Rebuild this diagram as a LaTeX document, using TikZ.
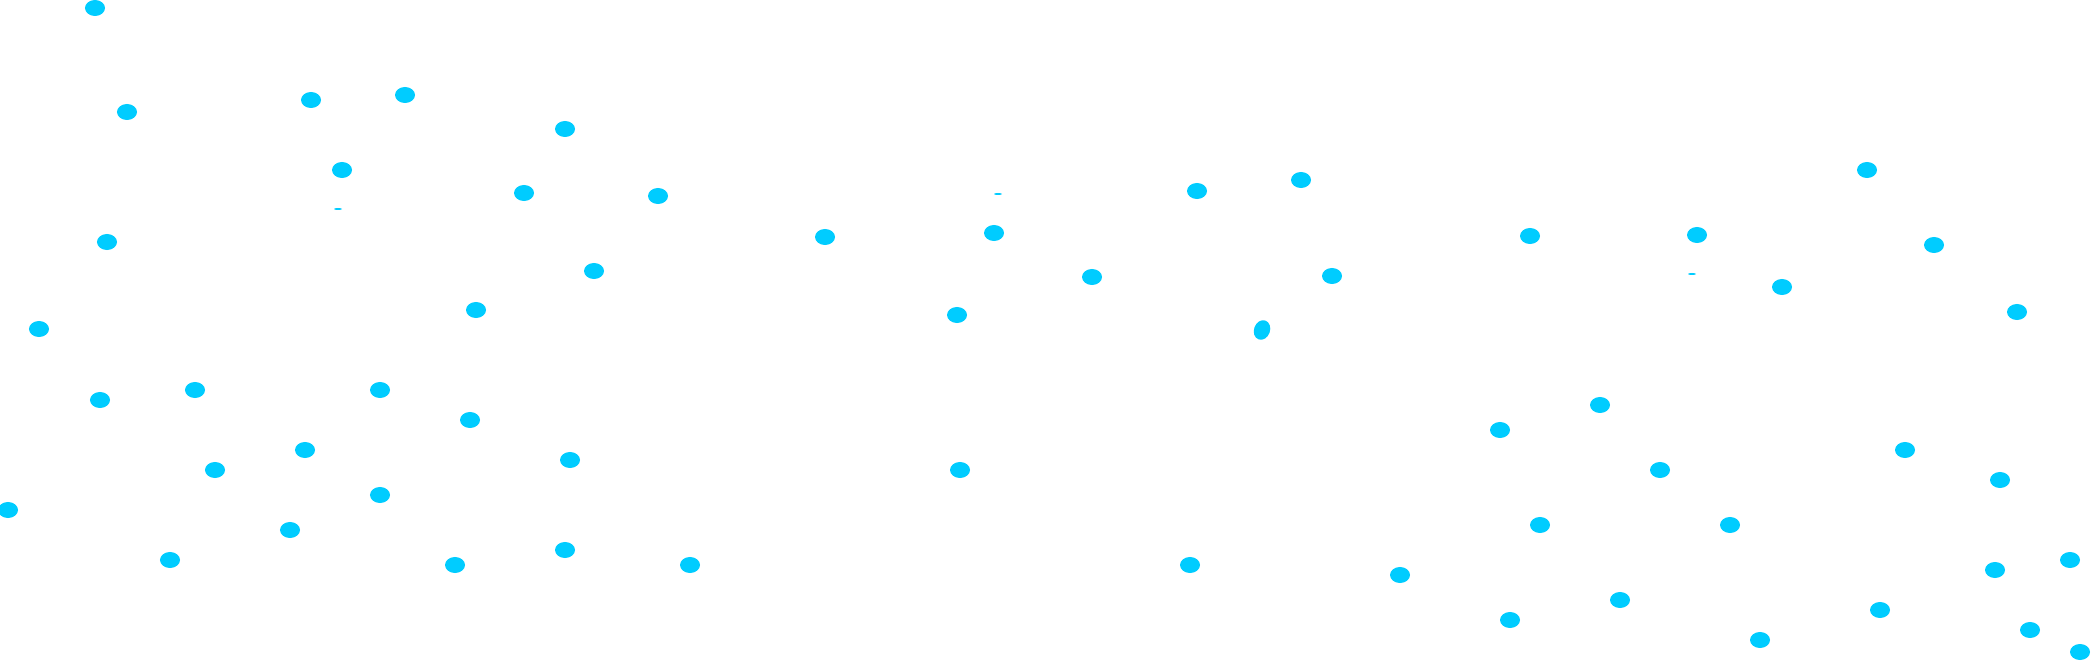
\documentclass[tikz,border=0pt]{standalone}
\usetikzlibrary{shapes.geometric}
\definecolor{dotcyan}{HTML}{00CCFF}
\tikzstyle{dot}=[ellipse,fill=dotcyan,inner sep=0pt,minimum width=0.2cm,minimum height=0.16cm]
\tikzstyle{speck}=[ellipse,fill=dotcyan,inner sep=0pt,minimum width=0.08cm,minimum height=0.02cm]

\begin{document}
\begin{tikzpicture}[x=0.01cm,y=-0.01cm]
\useasboundingbox (0,0) rectangle (2091,661);

% upper half
\node[dot] (a1) at (95,8) {};
\node[dot] (a2) at (127,112) {};
\node[dot] (a3) at (311,100) {};
\node[dot] (a4) at (342,170) {};
\node[speck] (s1) at (338,209) {};
\node[dot] (a5) at (107,242) {};
\node[dot] (a6) at (39,329) {};
\node[dot] (b1) at (405,95) {};
\node[dot] (b2) at (565,129) {};
\node[dot] (b3) at (524,193) {};
\node[dot] (b4) at (658,196) {};
\node[dot] (b5) at (594,271) {};
\node[dot] (b6) at (476,310) {};
\node[speck] (s2) at (998,194) {};
\node[dot] (c1) at (825,237) {};
\node[dot] (c2) at (994,233) {};
\node[dot] (c3) at (957,315) {};
\node[dot] (d1) at (1197,191) {};
\node[dot] (d2) at (1301,180) {};
\node[dot] (d3) at (1092,277) {};
\node[dot] (d4) at (1332,276) {};
\node[dot,rotate=70] (d5) at (1262,330) {};
\node[dot] (e1) at (1530,236) {};
\node[dot] (e2) at (1697,235) {};
\node[speck] (s3) at (1692,274) {};
\node[dot] (f1) at (1867,170) {};
\node[dot] (f2) at (1934,245) {};
\node[dot] (f3) at (1782,287) {};
\node[dot] (f4) at (2017,312) {};

% lower half
\node[dot] (g1) at (100,400) {};
\node[dot] (g2) at (195,390) {};
\node[dot] (g3) at (380,390) {};
\node[dot] (g4) at (470,420) {};
\node[dot] (g5) at (305,450) {};
\node[dot] (g6) at (215,470) {};
\node[dot] (g7) at (570,460) {};
\node[dot] (g8) at (380,495) {};
\node[dot] (g9) at (8,510) {};
\node[dot] (g10) at (290,530) {};
\node[dot] (g11) at (170,560) {};
\node[dot] (g12) at (455,565) {};
\node[dot] (g13) at (565,550) {};
\node[dot] (g14) at (690,565) {};
\node[dot] (h1) at (960,470) {};
\node[dot] (h2) at (1190,565) {};
\node[dot] (h3) at (1400,575) {};
\node[dot] (h4) at (1510,620) {};
\node[dot] (h5) at (1540,525) {};
\node[dot] (h6) at (1620,600) {};
\node[dot] (h7) at (1730,525) {};
\node[dot] (h8) at (1500,430) {};
\node[dot] (h9) at (1600,405) {};
\node[dot] (h10) at (1660,470) {};
\node[dot] (k1) at (1880,610) {};
\node[dot] (k2) at (1905,450) {};
\node[dot] (k3) at (1995,570) {};
\node[dot] (k4) at (2000,480) {};
\node[dot] (k5) at (2030,630) {};
\node[dot] (k6) at (2070,560) {};
\node[dot] (k7) at (2080,652) {};
\node[dot] (k8) at (1760,640) {};
\end{tikzpicture}
\end{document}
